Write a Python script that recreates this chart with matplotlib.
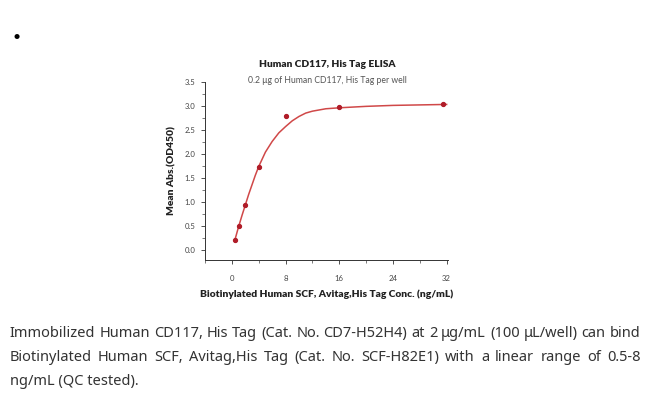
import matplotlib.pyplot as plt
from matplotlib.ticker import MultipleLocator

# data
conc = [0.5, 1, 2, 4, 8, 16, 31.5]
od450 = [0.22, 0.50, 0.95, 1.74, 2.78, 2.97, 3.03]

# fitted curve, sampled by eye
fit_x = [0.5, 1, 1.5, 2, 2.5, 3, 3.5, 4, 5, 6, 7, 8, 9, 10, 11, 12, 14, 16, 20, 24, 28, 32]
fit_y = [0.24, 0.49, 0.72, 0.94, 1.16, 1.36, 1.56, 1.74, 2.04, 2.26, 2.44, 2.57, 2.69, 2.78,
         2.85, 2.89, 2.94, 2.96, 2.99, 3.01, 3.02, 3.03]

xticks = [0, 8, 16, 24, 32]
yticks = [0.0, 0.5, 1.0, 1.5, 2.0, 2.5, 3.0, 3.5]

title = 'Human CD117, His Tag ELISA'
subtitle = '0.2 \u03bcg of Human CD117, His Tag per well'
xlabel = 'Biotinylated Human SCF, Avitag,His Tag Conc. (ng/mL)'
ylabel = 'Mean Abs.(OD450)'
caption = ['Immobilized Human CD117, His Tag (Cat. No. CD7-H52H4) at 2 \u03bcg/mL (100 \u03bcL/well) can bind',
           'Biotinylated Human SCF, Avitag,His Tag (Cat. No. SCF-H82E1) with a linear range of 0.5-8',
           'ng/mL (QC tested).']

plt.rcParams['font.family'] = ['Lato', 'DejaVu Sans']
fig = plt.figure(figsize=(6.5, 3.99), dpi=100)
ax = fig.add_axes([0.3154, 0.3484, 0.3738, 0.4466])

ax.plot(fit_x, fit_y, color='#d04848', lw=1.1, zorder=2)
ax.plot(conc, od450, 'o', color='#b01c28', ms=2.8, zorder=3)

ax.set_xlim(-4, 32.2)
ax.set_ylim(-0.2, 3.5)
ax.set_xticks(xticks)
ax.set_yticks(yticks)
ax.set_yticklabels(['%.1f' % v for v in yticks])
ax.xaxis.set_minor_locator(MultipleLocator(4))
ax.yaxis.set_minor_locator(MultipleLocator(0.25))
for s in ['top', 'right']:
    ax.spines[s].set_visible(False)
for s in ['left', 'bottom']:
    ax.spines[s].set_linewidth(0.7)
    ax.spines[s].set_color('#333333')
ax.tick_params(which='major', length=3, width=0.6, color='#333333', labelsize=5.6,
               labelcolor='#444444')
ax.tick_params(which='minor', length=2, width=0.5, color='#444444')
ax.tick_params(axis='x', pad=8)
ax.tick_params(axis='y', pad=4)

ax.set_xlabel(xlabel, fontsize=7.4, fontweight='heavy', color='#222222', labelpad=5)
ax.set_ylabel(ylabel, fontsize=7.4, fontweight='heavy', color='#222222', labelpad=6)

fig.text(0.503, 0.838, title, fontsize=7.3, fontweight='heavy', ha='center', va='center',
         color='#222222')
fig.text(0.503, 0.797, subtitle, fontsize=6.2, ha='center', va='center', color='#555555')

fig.text(0.025, 0.907, '\u2022', fontsize=10, ha='center', va='center', color='black')

# caption: first two lines justified between left and right edges
left, right = 0.015, 0.985
ys = [0.163, 0.105, 0.045]
cap_style = dict(fontsize=10.5, ha='left', va='center', color='#333333',
                 family=['Noto Sans', 'DejaVu Sans'])
renderer = fig.canvas.get_renderer()
W = fig.bbox.width
for i, (line, y) in enumerate(zip(caption, ys)):
    if i == len(caption) - 1:
        fig.text(left, y, line, **cap_style)
        continue
    words = line.split(' ')
    texts = [fig.text(left, y, w, **cap_style) for w in words]
    widths = [t.get_window_extent(renderer).width / W for t in texts]
    gap = (right - left - sum(widths)) / (len(words) - 1)
    x = left
    for t, w in zip(texts, widths):
        t.set_x(x)
        x += w + gap

fig.savefig('out.png', dpi=100, facecolor='white')
